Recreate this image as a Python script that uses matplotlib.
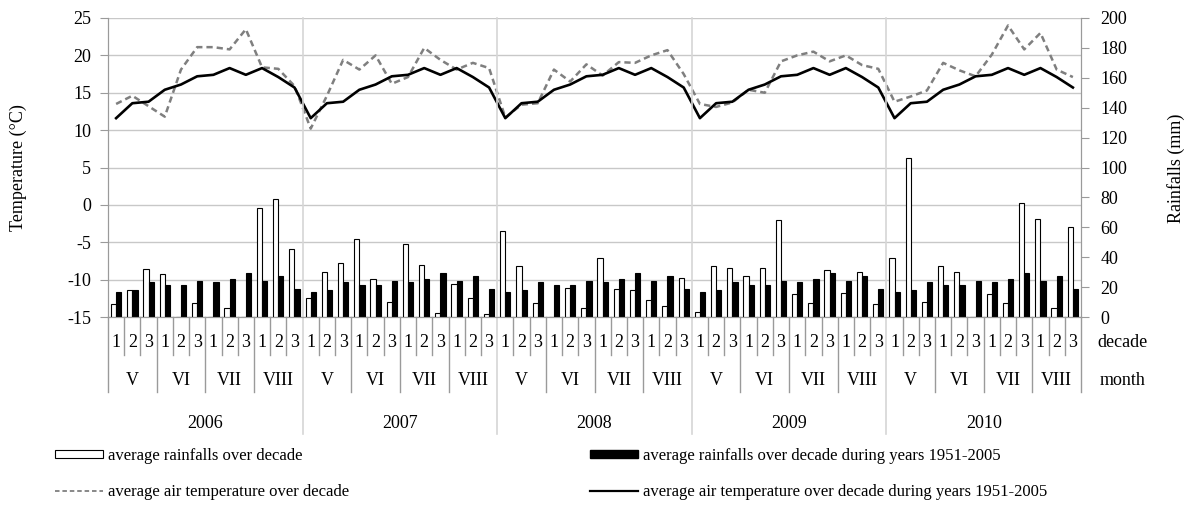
import numpy as np
from matplotlib import pyplot as plt
from matplotlib.patches import Patch
from matplotlib.lines import Line2D

plt.rcParams['font.family'] = ['Liberation Serif', 'DejaVu Serif']
plt.rcParams['axes.unicode_minus'] = False

years = ['2006', '2007', '2008', '2009', '2010']
months = ['V', 'VI', 'VII', 'VIII']
decades = ['1', '2', '3']

# mean air temperature per decade (°C), May-August of each year
temp_2006 = [13.5, 14.6, 13.2, 11.8, 18.1, 21.1, 21.1, 20.8, 23.5, 18.4, 18.2, 15.9]
temp_2007 = [10.2, 14.6, 19.4, 18.1, 20.0, 16.2, 17.1, 21.0, 19.4, 18.1, 19.0, 18.3]
temp_2008 = [11.7, 13.4, 13.6, 18.1, 16.5, 18.8, 17.3, 19.1, 19.0, 20.0, 20.7, 17.5]
temp_2009 = [13.5, 13.1, 13.7, 15.4, 15.0, 19.2, 20.0, 20.5, 19.2, 20.0, 18.7, 18.2]
temp_2010 = [13.8, 14.5, 15.3, 19.0, 18.0, 17.2, 20.1, 24.0, 20.8, 23.0, 18.1, 17.1]

# rainfall per decade (mm)
rain_2006 = [8.5, 17.9, 32.4, 28.6, 0, 9.4, 0, 6.3, 0, 72.6, 78.7, 45.8]
rain_2007 = [13.0, 29.9, 36.4, 52.1, 25.7, 10.1, 48.5, 35.1, 2.7, 21.9, 13.0, 1.8]
rain_2008 = [57.4, 34.4, 9.4, 0, 19.7, 6.3, 39.6, 19.0, 18.3, 11.6, 7.2, 26.4]
rain_2009 = [3.4, 34.4, 32.8, 27.7, 32.8, 64.8, 15.2, 9.4, 31.7, 16.1, 29.9, 8.5]
rain_2010 = [39.6, 106.6, 10.1, 34.4, 29.9, 0, 15.2, 9.4, 76.0, 65.5, 6.3, 60.3]

# long term means 1951-2005, same for every year
norm_temp = [11.6, 13.6, 13.8, 15.4, 16.1, 17.2, 17.4, 18.3, 17.4, 18.3, 17.1, 15.7]
norm_rain = [16.8, 18.0, 23.5, 21.2, 21.2, 24.1, 23.5, 25.7, 29.1, 24.1, 27.3, 19.0]

temp = temp_2006 + temp_2007 + temp_2008 + temp_2009 + temp_2010
rain = rain_2006 + rain_2007 + rain_2008 + rain_2009 + rain_2010
temp_lt = norm_temp * len(years)
rain_lt = norm_rain * len(years)

n = len(temp)
x = np.arange(n) + 0.5

W, H = 1185, 526
fig = plt.figure(figsize=(W / 100, H / 100), dpi=100)
ax = fig.add_axes([108 / W, 1 - 317 / H, (1081 - 108) / W, (317 - 18) / H])
ax2 = ax.twinx()

gridc = '#c8c8c8'
axc = '#9a9a9a'

# temperature (left axis)
ax.plot(x, temp, color='#7f7f7f', lw=1.8, ls=(0, (2.5, 1.6)))
ax.plot(x, temp_lt, color='black', lw=1.9)
ax.set_ylim(-15, 25)
ax.set_yticks(range(-15, 26, 5))
ax.set_xlim(0, n)
ax.set_xticks([])
ax.grid(axis='y', color=gridc, lw=1)
ax.set_axisbelow(True)
ax.tick_params(axis='y', labelsize=13, color=axc, length=6, pad=6)

# rainfall (right axis)
bw = 0.32
ax2.bar(x - bw / 2, rain, width=bw, color='white', edgecolor='black', lw=0.8)
ax2.bar(x + bw / 2, rain_lt, width=bw, color='black', edgecolor='black', lw=0.8)
ax2.set_ylim(0, 200)
ax2.set_yticks(range(0, 201, 20))
ax2.tick_params(axis='y', labelsize=13, color=axc, length=6, pad=8)

for a in (ax, ax2):
    a.spines['top'].set_visible(False)
    for s in ('left', 'right', 'bottom'):
        a.spines[s].set_color(axc)

# category axis: decades, months, years
tr = ax.get_xaxis_transform()
for i in range(n + 1):
    if i % 12 == 0 and 0 < i < n:
        ax.plot([i, i], [1, -0.392], transform=tr, clip_on=False, color='#d6d6d6', lw=1.2)
    elif i % 3 == 0:
        ax.plot([i, i], [0, -0.251], transform=tr, clip_on=False, color=axc, lw=1)
    else:
        ax.plot([i, i], [0, -0.127], transform=tr, clip_on=False, color=axc, lw=1)

for i in range(n):
    ax.text(i + 0.5, -0.084, decades[i % 3], transform=tr, ha='center', va='center', fontsize=13)
for j in range(n // 3):
    ax.text(3 * j + 1.5, -0.211, months[j % 4], transform=tr, ha='center', va='center', fontsize=13)
for k, yr in enumerate(years):
    ax.text(12 * k + 6, -0.355, yr, transform=tr, ha='center', va='center', fontsize=13)

ax.text(1.017, -0.084, 'decade', transform=ax.transAxes, ha='left', va='center', fontsize=13)
ax.text(1.019, -0.211, 'month', transform=ax.transAxes, ha='left', va='center', fontsize=13)

fig.text(18 / W, 1 - 168 / H, 'Temperature (°C)', rotation=90, ha='center', va='center', fontsize=13)
fig.text(1176 / W, 1 - 168 / H, 'Rainfalls (mm)', rotation=90, ha='center', va='center', fontsize=13)

# legend
h_rain = Patch(facecolor='white', edgecolor='black', lw=0.8)
h_rain_lt = Patch(facecolor='black', edgecolor='black')
h_temp = Line2D([], [], color='#7f7f7f', lw=1.3, ls=(0, (2.5, 1.6)))
h_temp_lt = Line2D([], [], color='black', lw=1.6)
kw = dict(frameon=False, fontsize=12, handlelength=2.85, handleheight=0.42,
          handletextpad=0.35, labelspacing=1.2, borderpad=0, borderaxespad=0, loc='upper left')
fig.legend([h_rain, h_temp], ['average rainfalls over decade', 'average air temperature over decade'],
           bbox_to_anchor=(55 / W, 1 - 448 / H), **kw)
fig.legend([h_rain_lt, h_temp_lt],
           ['average rainfalls over decade during years 1951-2005',
            'average air temperature over decade during years 1951-2005'],
           bbox_to_anchor=(590 / W, 1 - 448 / H), **kw)

fig.savefig('out.png', dpi=100)
